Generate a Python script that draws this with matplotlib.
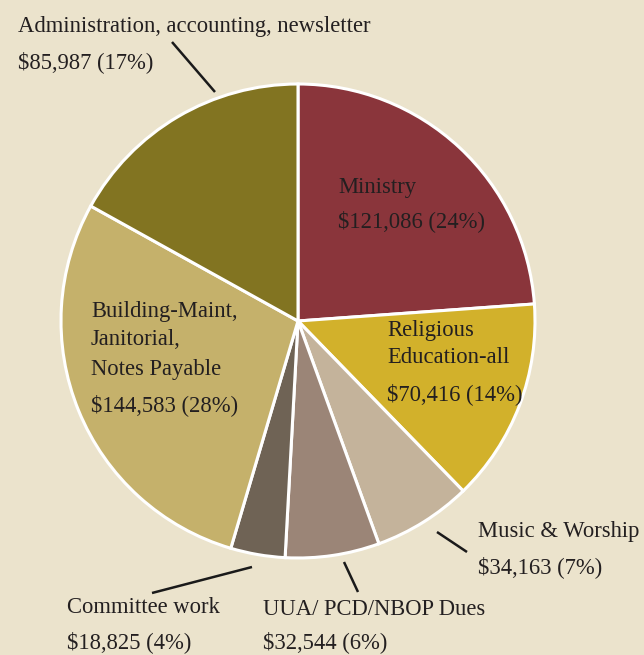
import matplotlib.pyplot as plt

# budget categories, clockwise from the top
categories = ['Ministry', 'Religious Education-all', 'Music & Worship',
              'UUA/ PCD/NBOP Dues', 'Committee work',
              'Building-Maint, Janitorial, Notes Payable',
              'Administration, accounting, newsletter']
amounts = [121086, 70416, 34163, 32544, 18825, 144583, 85987]
percents = [24, 14, 7, 6, 4, 28, 17]
colors = ['#8a353b', '#d2b12b', '#c4b39b', '#9b8577', '#6f6355', '#c5b16b', '#827421']

# label text lines (name lines, then amount line)
label_lines = [
    ['Ministry'],
    ['Religious', 'Education-all'],
    ['Music & Worship'],
    ['UUA/ PCD/NBOP Dues'],
    ['Committee work'],
    ['Building-Maint,', 'Janitorial,', 'Notes Payable'],
    ['Administration, accounting, newsletter'],
]

bg = '#ebe3cc'
txt_color = '#231f20'

fig = plt.figure(figsize=(6.44, 6.55), dpi=100, facecolor=bg)
ax = fig.add_axes([0, 0, 1, 1])
ax.set_facecolor(bg)

ax.pie(amounts, colors=colors, center=(298, 321), radius=237,
       startangle=-90, counterclock=True, frame=True,
       wedgeprops=dict(edgecolor='white', linewidth=2.2))
# axes in pixel units, y pointing down
ax.set_xlim(0, 644)
ax.set_ylim(655, 0)
ax.axis('off')

# label anchors: x, baseline of each line
anchors = [
    (338, [193, 227]),
    (387, [336, 363, 400]),
    (478, [537, 573]),
    (263, [615, 648]),
    (67, [613, 648]),
    (91, [317, 345, 375, 411]),
    (18, [32, 68]),
]

for lines, amt, pct, (x, ys) in zip(label_lines, amounts, percents, anchors):
    texts = lines + ['${:,} ({}%)'.format(amt, pct)]
    for t, y in zip(texts, ys):
        ax.text(x, y, t, fontsize=16.3, family='Liberation Serif',
                color=txt_color, va='baseline', ha='left')

# leader lines for outside labels
leaders = [
    ((172, 215), (42, 92)),
    ((437, 467), (532, 552)),
    ((344, 358), (562, 592)),
    ((152, 252), (593, 567)),
]
for xs, ys in leaders:
    ax.plot(xs, ys, color='#1a1a1a', linewidth=1.8, solid_capstyle='butt')

fig.savefig('out.png', dpi=100, facecolor=bg)
